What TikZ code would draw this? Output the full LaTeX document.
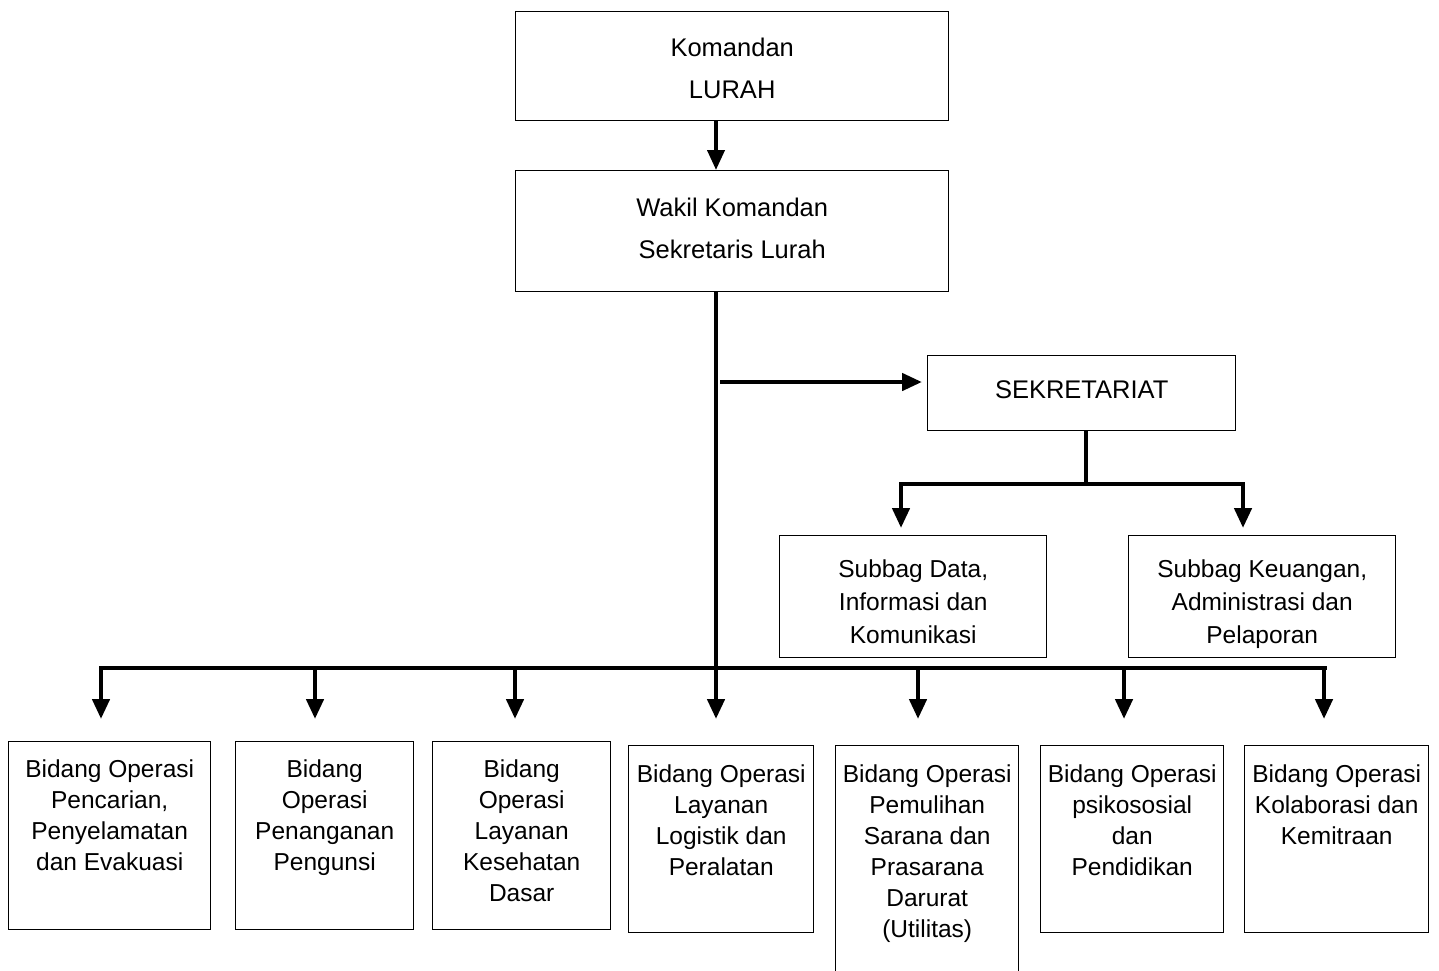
\documentclass[tikz,border=0pt]{standalone}
\usepackage{fontspec}
\setmainfont{Liberation Sans}
\usetikzlibrary{arrows.meta}
\begin{document}
\begin{tikzpicture}[x=1pt,y=-1pt,
  box/.style={draw=black,line width=1.4pt,minimum width=#1,anchor=north west,inner sep=0pt},
  lbl/.style={anchor=north,align=center,inner sep=0pt,font=\fontsize{24.5}{31}\selectfont},
  toplbl/.style={lbl,font=\fontsize{25.5}{42}\selectfont},
  sublbl/.style={lbl,font=\fontsize{24.5}{33}\selectfont},
  bus/.style={line width=4.5pt},
  arr/.style={line width=4.5pt,-{Triangle[length=20pt,width=17pt]}},
]
\useasboundingbox (0,0) rectangle (1439,970);

% leadership boxes
\node[box=433pt,minimum height=109pt] (kom) at (515,11) {};
\node[toplbl] (komT) at ([yshift=-27pt]kom.north) {Komandan\\LURAH};
\node[box=433pt,minimum height=121pt] (wak) at (515,170) {};
\node[toplbl] (wakT) at ([yshift=-28pt]wak.north) {Wakil Komandan\\Sekretaris Lurah};

% secretariat and its sub-sections
\node[box=308pt,minimum height=75pt] (sek) at (927,355) {};
\node[toplbl] (sekT) at ([yshift=-25pt]sek.north) {SEKRETARIAT};
\node[box=267pt,minimum height=122pt] (sb1) at (779,535) {};
\node[sublbl] (sb1T) at ([yshift=-25pt]sb1.north) {Subbag Data,\\Informasi dan\\Komunikasi};
\node[box=267pt,minimum height=122pt] (sb2) at (1128,535) {};
\node[sublbl] (sb2T) at ([yshift=-25pt]sb2.north) {Subbag Keuangan,\\Administrasi dan\\Pelaporan};

% operational fields
\node[box=202pt,minimum height=188pt] (b1) at (8,741) {};
\node[lbl] (b1T) at ([yshift=-19pt]b1.north) {Bidang Operasi\\Pencarian,\\Penyelamatan\\dan Evakuasi};
\node[box=178pt,minimum height=188pt] (b2) at (235,741) {};
\node[lbl] (b2T) at ([yshift=-19pt]b2.north) {Bidang\\Operasi\\Penanganan\\Pengunsi};
\node[box=178pt,minimum height=188pt] (b3) at (432,741) {};
\node[lbl] (b3T) at ([yshift=-19pt]b3.north) {Bidang\\Operasi\\Layanan\\Kesehatan\\Dasar};
\node[box=185pt,minimum height=187pt] (b4) at (628,745) {};
\node[lbl] (b4T) at ([yshift=-20pt]b4.north) {Bidang Operasi\\Layanan\\Logistik dan\\Peralatan};
\node[box=183pt,minimum height=227pt] (b5) at (835,745) {};
\node[lbl] (b5T) at ([yshift=-20pt]b5.north) {Bidang Operasi\\Pemulihan\\Sarana dan\\Prasarana\\Darurat\\(Utilitas)};
\node[box=183pt,minimum height=187pt] (b6) at (1040,745) {};
\node[lbl] (b6T) at ([yshift=-20pt]b6.north) {Bidang Operasi\\psikososial\\dan\\Pendidikan};
\node[box=184pt,minimum height=187pt] (b7) at (1244,745) {};
\node[lbl] (b7T) at ([yshift=-20pt]b7.north) {Bidang Operasi\\Kolaborasi dan\\Kemitraan};

% junction points
\coordinate (trunk) at (716,291);
\coordinate (busL) at (101,668);
\coordinate (busR) at (1325,668);
\coordinate (sekFrom) at (720,382);
\coordinate (sekBus) at (1086,484);
\coordinate (sbL) at (901,484);
\coordinate (sbR) at (1243,484);
\coordinate (t1) at (101,719);
\coordinate (t2) at (315,719);
\coordinate (t3) at (515,719);
\coordinate (t4) at (716,719);
\coordinate (t5) at (918,719);
\coordinate (t6) at (1124,719);
\coordinate (t7) at (1324,719);

% connectors
\draw[arr,line width=4pt] (kom.south -| trunk) -- (wak.north -| trunk);
\draw[bus] (wak.south -| trunk) -- (busL -| trunk);
\draw[arr] (sekFrom) -- ([xshift=-5pt]sekFrom -| sek.west);
\draw[bus] (sek.south -| sekBus) -- (sekBus);
\draw[bus,line cap=rect] (sbL) -- (sbR);
\draw[arr] (sbL) -- ([yshift=7pt]sb1.north -| sbL);
\draw[arr] (sbR) -- ([yshift=7pt]sb2.north -| sbR);
\draw[bus,line cap=rect] (busL) -- (busR);
\foreach \t in {t1,t2,t3,t4,t5,t6,t7}
  \draw[arr] (busL -| \t) -- (\t);
\end{tikzpicture}
\end{document}
